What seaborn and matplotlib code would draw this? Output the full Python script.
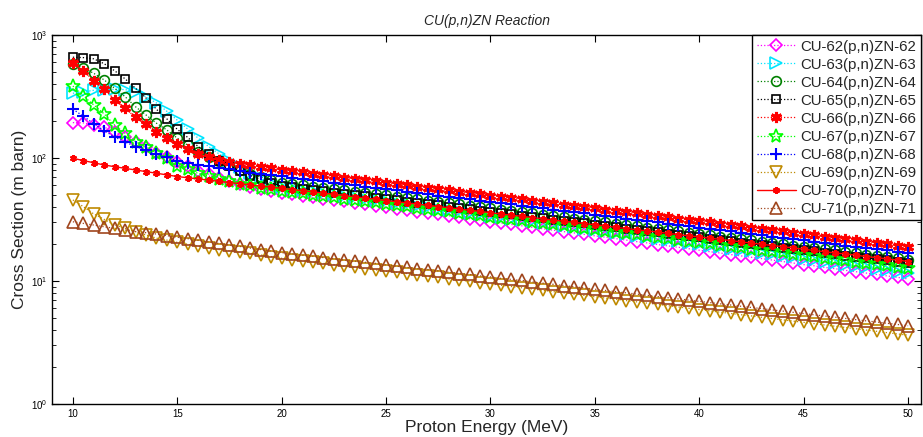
import numpy as np
import matplotlib
matplotlib.use('Agg')
import matplotlib.pyplot as plt
import seaborn as sns
from matplotlib.ticker import LogLocator, NullFormatter

# proton energy grid (MeV), one point every 0.5 MeV
energy = np.arange(10, 50.5, 0.5)

# cross sections (mb)
cu62 = [194, 193, 186, 178, 164, 149, 135, 122, 110, 101, 93.0, 85.5, 79.0, 74.0, 69.0, 65.0, 61.5, 58.5, 56.0, 54.0, 52.0,
        50.6, 49.3, 48.0, 46.7, 45.5, 44.3, 43.1, 42.0, 40.9, 39.8, 38.7, 37.7, 36.7, 35.7, 34.8, 33.9, 33.0, 32.1, 31.3, 30.4,
        29.6, 28.8, 28.1, 27.3, 26.6, 25.9, 25.2, 24.6, 23.9, 23.3, 22.7, 22.1, 21.5, 20.9, 20.4, 19.8, 19.3, 18.8, 18.3, 17.8,
        17.3, 16.9, 16.4, 16.0, 15.6, 15.2, 14.8, 14.4, 14.0, 13.6, 13.3, 12.9, 12.6, 12.2, 11.9, 11.6, 11.3, 11.0, 10.7, 10.4]
cu63 = [336, 346, 355, 360, 362, 360, 345, 315, 280, 240, 203, 172, 145, 124, 108, 95.0, 85.0, 76.0, 69.0, 63.0, 58.0,
        56.5, 55.0, 53.5, 52.1, 50.7, 49.4, 48.1, 46.8, 45.6, 44.4, 43.2, 42.1, 40.9, 39.9, 38.8, 37.8, 36.8, 35.8, 34.9, 33.9,
        33.0, 32.2, 31.3, 30.5, 29.7, 28.9, 28.1, 27.4, 26.7, 26.0, 25.3, 24.6, 24.0, 23.3, 22.7, 22.1, 21.5, 21.0, 20.4, 19.9,
        19.3, 18.8, 18.3, 17.8, 17.4, 16.9, 16.5, 16.0, 15.6, 15.2, 14.8, 14.4, 14.0, 13.6, 13.3, 12.9, 12.6, 12.3, 11.9, 11.6]
cu64 = [578, 542, 488, 431, 369, 315, 261, 224, 192, 169, 145, 127, 112, 102, 95.0, 87.0, 80.0, 74.5, 70.0, 66.0, 63.0,
        61.5, 60.1, 58.6, 57.2, 55.9, 54.6, 53.3, 52.0, 50.8, 49.6, 48.4, 47.2, 46.1, 45.0, 44.0, 42.9, 41.9, 40.9, 39.9, 39.0,
        38.1, 37.2, 36.3, 35.4, 34.6, 33.8, 33.0, 32.2, 31.4, 30.7, 29.9, 29.2, 28.5, 27.9, 27.2, 26.6, 25.9, 25.3, 24.7, 24.1,
        23.6, 23.0, 22.5, 21.9, 21.4, 20.9, 20.4, 19.9, 19.4, 19.0, 18.5, 18.1, 17.7, 17.2, 16.8, 16.4, 16.0, 15.7, 15.3, 14.9]
cu65 = [660, 655, 640, 584, 512, 440, 369, 308, 249, 208, 171, 147, 124, 108, 94.0, 86.0, 78.0, 72.0, 67.0, 63.0, 59.0,
        57.6, 56.2, 54.9, 53.6, 52.3, 51.1, 49.9, 48.7, 47.5, 46.4, 45.3, 44.2, 43.2, 42.2, 41.2, 40.2, 39.2, 38.3, 37.4, 36.5,
        35.6, 34.8, 34.0, 33.2, 32.4, 31.6, 30.9, 30.1, 29.4, 28.7, 28.0, 27.4, 26.7, 26.1, 25.5, 24.9, 24.3, 23.7, 23.1, 22.6,
        22.1, 21.5, 21.0, 20.5, 20.0, 19.6, 19.1, 18.6, 18.2, 17.8, 17.4, 16.9, 16.5, 16.1, 15.8, 15.4, 15.0, 14.7, 14.3, 14.0]
cu66 = [589, 512, 425, 364, 298, 254, 214, 189, 164, 145, 130, 118, 108, 102, 97.0, 93.0, 90.0, 87.5, 85.0, 82.5, 80.0,
        78.1, 76.3, 74.4, 72.7, 71.0, 69.3, 67.6, 66.0, 64.5, 62.9, 61.4, 60.0, 58.6, 57.2, 55.8, 54.5, 53.2, 51.9, 50.7, 49.5,
        48.3, 47.2, 46.1, 45.0, 43.9, 42.9, 41.8, 40.9, 39.9, 38.9, 38.0, 37.1, 36.2, 35.4, 34.5, 33.7, 32.9, 32.1, 31.4, 30.6,
        29.9, 29.2, 28.5, 27.8, 27.2, 26.5, 25.9, 25.3, 24.7, 24.1, 23.5, 23.0, 22.4, 21.9, 21.4, 20.9, 20.4, 19.9, 19.4, 19.0]
cu67 = [385, 319, 270, 228, 185, 159, 136, 122, 109, 99.5, 86.5, 81.0, 75.0, 71.5, 67.0, 64.5, 62.0, 60.0, 57.5, 55.7, 54.0,
        52.7, 51.5, 50.3, 49.1, 47.9, 46.8, 45.7, 44.6, 43.5, 42.5, 41.5, 40.5, 39.5, 38.6, 37.7, 36.8, 35.9, 35.1, 34.2, 33.4,
        32.6, 31.9, 31.1, 30.4, 29.6, 28.9, 28.3, 27.6, 26.9, 26.3, 25.7, 25.1, 24.5, 23.9, 23.3, 22.8, 22.2, 21.7, 21.2, 20.7,
        20.2, 19.7, 19.2, 18.8, 18.3, 17.9, 17.5, 17.1, 16.7, 16.3, 15.9, 15.5, 15.1, 14.8, 14.4, 14.1, 13.8, 13.4, 13.1, 12.8]
cu68 = [249, 219, 190, 167, 148, 135, 124, 116, 107, 101, 95.0, 91.0, 88.0, 85.5, 83.0, 81.0, 78.5, 76.0, 74.5, 72.5, 71.0,
        69.3, 67.7, 66.1, 64.5, 63.0, 61.5, 60.0, 58.6, 57.2, 55.9, 54.5, 53.2, 52.0, 50.7, 49.5, 48.4, 47.2, 46.1, 45.0, 43.9,
        42.9, 41.9, 40.9, 39.9, 39.0, 38.0, 37.1, 36.3, 35.4, 34.6, 33.7, 32.9, 32.2, 31.4, 30.7, 29.9, 29.2, 28.5, 27.9, 27.2,
        26.5, 25.9, 25.3, 24.7, 24.1, 23.5, 23.0, 22.4, 21.9, 21.4, 20.9, 20.4, 19.9, 19.4, 19.0, 18.5, 18.1, 17.7, 17.2, 16.8]
cu69 = [45.6, 40.2, 35.1, 31.7, 28.5, 26.8, 25.2, 23.7, 22.3, 21.5, 20.6, 19.9, 19.2, 18.5, 18.0, 17.6, 17.1, 16.8, 16.3, 15.8, 15.3,
        14.9, 14.6, 14.2, 13.9, 13.6, 13.2, 12.9, 12.6, 12.3, 12.0, 11.8, 11.5, 11.2, 10.9, 10.7, 10.4, 10.2, 9.93, 9.70, 9.47,
        9.24, 9.02, 8.81, 8.60, 8.40, 8.20, 8.00, 7.81, 7.63, 7.45, 7.27, 7.10, 6.93, 6.77, 6.61, 6.45, 6.30, 6.15, 6.00, 5.86,
        5.72, 5.58, 5.45, 5.32, 5.20, 5.07, 4.95, 4.83, 4.72, 4.61, 4.50, 4.39, 4.29, 4.19, 4.09, 3.99, 3.90, 3.80, 3.71, 3.63]
cu70 = [99.5, 95.3, 91.5, 87.7, 85.0, 82.4, 79.9, 77.5, 75.2, 72.9, 70.7, 69.1, 67.6, 66.1, 64.6, 63.2, 61.8, 60.4, 59.1, 57.9, 56.7,
        55.4, 54.2, 53.0, 51.8, 50.6, 49.5, 48.3, 47.3, 46.2, 45.1, 44.1, 43.1, 42.2, 41.2, 40.3, 39.4, 38.5, 37.6, 36.8, 35.9,
        35.1, 34.3, 33.6, 32.8, 32.1, 31.3, 30.6, 30.0, 29.3, 28.6, 28.0, 27.3, 26.7, 26.1, 25.5, 25.0, 24.4, 23.8, 23.3, 22.8,
        22.3, 21.8, 21.3, 20.8, 20.3, 19.9, 19.4, 19.0, 18.6, 18.1, 17.7, 17.3, 16.9, 16.6, 16.2, 15.8, 15.5, 15.1, 14.8, 14.4]
cu71 = [30.3, 29.4, 28.5, 27.6, 26.8, 26.0, 25.2, 24.7, 24.1, 23.4, 22.7, 22.1, 21.4, 20.8, 20.2, 19.6, 19.1, 18.5, 18.0, 17.5, 17.0,
        16.6, 16.2, 15.9, 15.5, 15.2, 14.8, 14.5, 14.2, 13.9, 13.5, 13.2, 12.9, 12.6, 12.4, 12.1, 11.8, 11.5, 11.3, 11.0, 10.8,
        10.5, 10.3, 10.1, 9.84, 9.61, 9.40, 9.19, 8.98, 8.78, 8.58, 8.38, 8.20, 8.01, 7.83, 7.65, 7.48, 7.31, 7.15, 6.99, 6.83,
        6.68, 6.52, 6.38, 6.23, 6.09, 5.96, 5.82, 5.69, 5.56, 5.44, 5.31, 5.19, 5.08, 4.96, 4.85, 4.74, 4.64, 4.53, 4.43, 4.33]

labels = ['CU-62(p,n)ZN-62', 'CU-63(p,n)ZN-63', 'CU-64(p,n)ZN-64', 'CU-65(p,n)ZN-65', 'CU-66(p,n)ZN-66',
          'CU-67(p,n)ZN-67', 'CU-68(p,n)ZN-68', 'CU-69(p,n)ZN-69', 'CU-70(p,n)ZN-70', 'CU-71(p,n)ZN-71']
series = [cu62, cu63, cu64, cu65, cu66, cu67, cu68, cu69, cu70, cu71]

asterisk = (6, 2, 0)
styles = [
    dict(color='#ff00ff', ls=':', marker='D', ms=6.5, mew=1.2),
    dict(color='#00e5ff', ls=':', marker='>', ms=8, mew=1.2),
    dict(color='#008000', ls=':', marker='o', ms=7, mew=1.2),
    dict(color='black', ls=':', marker='s', ms=6, mew=1.2),
    dict(color='red', ls=':', marker=asterisk, ms=8, mew=2.2),
    dict(color='#00ff00', ls=':', marker='*', ms=10, mew=1.2),
    dict(color='blue', ls=':', marker='+', ms=9, mew=1.5),
    dict(color='#bf8a00', ls=':', marker='v', ms=8, mew=1.2),
    dict(color='red', ls='-', marker=asterisk, ms=5, mew=1.5),
    dict(color='#a0461e', ls=':', marker='^', ms=8, mew=1.2),
]

sns.set_style('ticks')
plt.rcParams['font.family'] = ['Liberation Sans', 'DejaVu Sans']
plt.rcParams['mathtext.fontset'] = 'custom'
plt.rcParams['mathtext.rm'] = 'Liberation Sans'
plt.rcParams['mathtext.it'] = 'Liberation Sans:italic'

fig = plt.figure(figsize=(9.23, 4.37), dpi=100)
ax = fig.add_axes([52 / 923, 33 / 437, 869 / 923, 369 / 437])

for vals, lab, st in zip(series, labels, styles):
    sns.lineplot(x=energy, y=vals, ax=ax, label=lab, color=st['color'], linestyle=st['ls'],
                 linewidth=1.0 if st['ls'] == '-' else 0.9,
                 marker=st['marker'], markersize=st['ms'], markerfacecolor='none',
                 markeredgecolor=st['color'], markeredgewidth=st['mew'])

ax.set_yscale('log')
ax.set_xlim(9, 50.62)
ax.set_ylim(1, 1000)
ax.set_xticks(range(10, 51, 5))
ax.yaxis.set_minor_locator(LogLocator(base=10, subs=np.arange(2, 10) * 1.0, numticks=10))
ax.yaxis.set_minor_formatter(NullFormatter())
ax.tick_params(which='both', direction='in', top=True, right=True, labelsize=7, colors='black')
ax.tick_params(which='major', length=5, width=0.8)
ax.tick_params(which='minor', length=3, width=0.6)
for sp in ax.spines.values():
    sp.set_color('black')
    sp.set_linewidth(1.0)

ax.set_xlabel('Proton Energy (MeV)', fontsize=12.5, labelpad=1)
ax.set_ylabel('Cross Section (m barn)', fontsize=12.5, labelpad=3)
ax.set_title('CU(p,n)ZN Reaction', fontsize=10, fontstyle='italic', pad=7)

leg = ax.legend(loc='upper right', bbox_to_anchor=(1, 1), borderaxespad=0, fontsize=10.8,
                frameon=True, fancybox=False, edgecolor='black', framealpha=1,
                handlelength=2.6, handletextpad=0.3, labelspacing=0.27, borderpad=0.3)
leg.get_frame().set_linewidth(1.0)

fig.savefig('out.png', dpi=100)
